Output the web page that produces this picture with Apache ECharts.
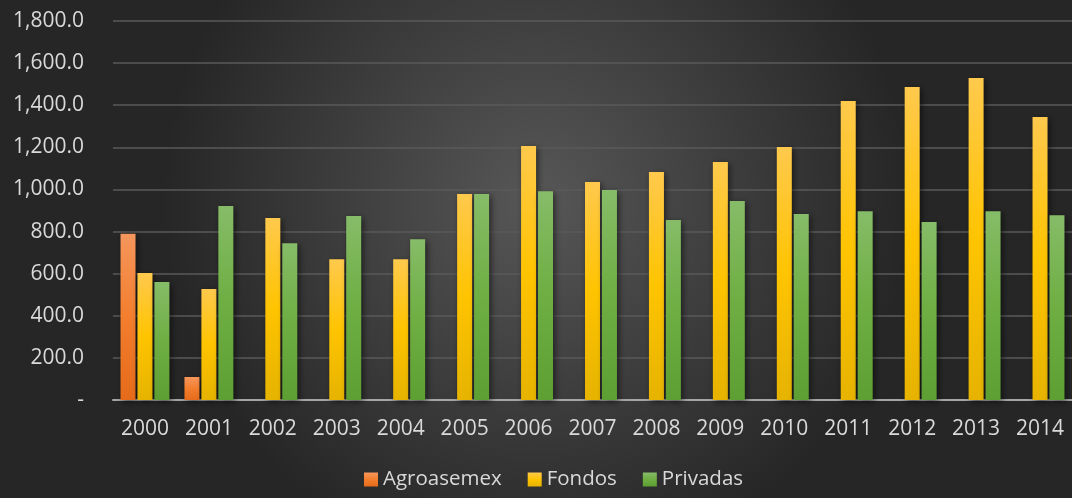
<!DOCTYPE html>
<html>
<head>
<meta charset="utf-8">
<script src="https://cdn.jsdelivr.net/npm/echarts@6/dist/echarts.min.js"></script>
<style>
  html, body { margin: 0; padding: 0; }
  #main { width: 1072px; height: 498px; }
</style>
</head>
<body>
<div id="main"></div>
<script>
var years = ['2000', '2001', '2002', '2003', '2004', '2005', '2006', '2007',
             '2008', '2009', '2010', '2011', '2012', '2013', '2014'];
var agroasemex = [790, 109, null, null, null, null, null, null, null, null, null, null, null, null, null];
var fondos = [603, 527, 864, 669, 669, 978, 1206, 1035, 1083, 1130, 1201, 1420, 1486, 1529, 1344];
var privadas = [560, 921, 745, 874, 764, 978, 992, 997, 855, 945, 883, 897, 845, 897, 878];

function grad(top, mid, bottom) {
    return new echarts.graphic.LinearGradient(0, 0, 0, 1, [
        { offset: 0, color: top },
        { offset: 0.5, color: mid },
        { offset: 1, color: bottom }
    ]);
}

function fmt(v) {
    if (v === 0) return '-';
    var s = v.toFixed(1).split('.');
    return s[0].replace(/\B(?=(\d{3})+(?!\d))/g, ',') + '.' + s[1];
}

var barStyle = {
    shadowColor: 'rgba(0,0,0,0.55)',
    shadowBlur: 6,
    shadowOffsetX: 2,
    shadowOffsetY: 2
};

var myChart = echarts.init(document.getElementById('main'));
var option = {
    backgroundColor: new echarts.graphic.RadialGradient(0.5, 0.4, 0.75, [
        { offset: 0, color: '#575757' },
        { offset: 1, color: '#262626' }
    ]),
    textStyle: { fontFamily: 'Open Sans' },
    grid: { left: 113, right: 0, top: 21, bottom: 98 },
    legend: {
        bottom: 3,
        left: 359,
        itemWidth: 14,
        itemHeight: 14,
        itemGap: 26,
        icon: 'rect',
        textStyle: { color: '#d9d9d9', fontSize: 20.5 },
        data: ['Agroasemex', 'Fondos', 'Privadas']
    },
    xAxis: {
        type: 'category',
        data: years,
        axisTick: { show: false },
        axisLine: { lineStyle: { color: '#a6a6a6', width: 2 } },
        axisLabel: { color: '#d9d9d9', fontSize: 21, margin: 19 }
    },
    yAxis: {
        type: 'value',
        min: 0,
        max: 1800,
        interval: 200,
        axisLine: { show: false },
        axisTick: { show: false },
        splitLine: { lineStyle: { color: '#5a5a5a', width: 1.5 } },
        axisLabel: { color: '#d9d9d9', fontSize: 21, margin: 29, formatter: fmt }
    },
    series: [{
        name: 'Agroasemex',
        type: 'bar',
        data: agroasemex,
        barWidth: 15,
        barGap: '13%',
        itemStyle: Object.assign({ color: grad('#f5965c', '#f37e2e', '#e56b1a') }, barStyle)
    }, {
        name: 'Fondos',
        type: 'bar',
        data: fondos,
        barWidth: 15,
        barGap: '13%',
        itemStyle: Object.assign({ color: grad('#ffc94d', '#ffc400', '#e6b300') }, barStyle)
    }, {
        name: 'Privadas',
        type: 'bar',
        data: privadas,
        barWidth: 15,
        barGap: '13%',
        itemStyle: Object.assign({ color: grad('#86bc68', '#6eae42', '#5e9f34') }, barStyle)
    }]
};
myChart.setOption(option);
</script>
</body>
</html>
